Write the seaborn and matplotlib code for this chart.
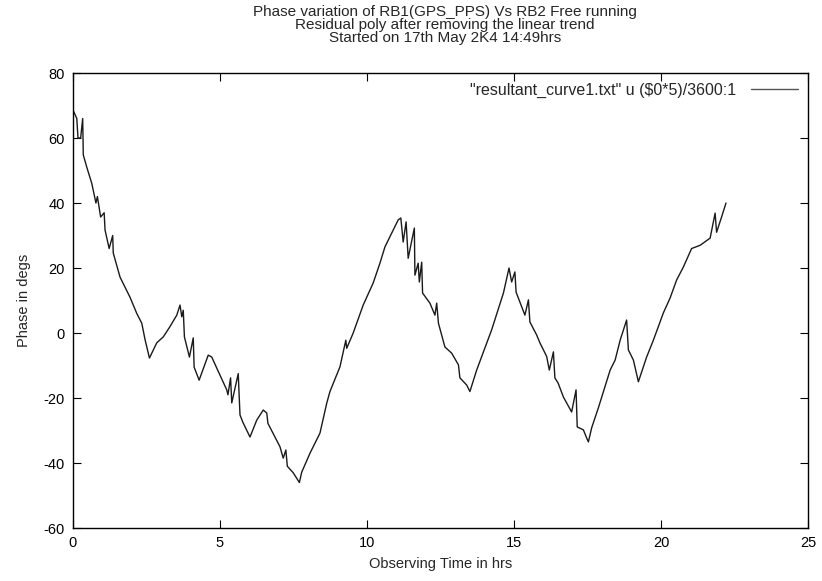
import matplotlib
matplotlib.use("Agg")
import matplotlib.pyplot as plt
import seaborn as sns
import pandas as pd

# observing time (hrs) and residual phase (degs)
hours = [0, 0.13, 0.17, 0.26, 0.33, 0.35, 0.47, 0.64, 0.78, 0.83,
         0.94, 1.06, 1.09, 1.23, 1.35, 1.37, 1.60, 1.94, 2.17, 2.34,
         2.45, 2.60, 2.85, 3.07, 3.30, 3.53, 3.64, 3.70, 3.75, 3.79,
         3.96, 4.09, 4.12, 4.29, 4.60, 4.72, 4.89, 5.23, 5.27, 5.36,
         5.40, 5.62, 5.68, 5.78, 6.02, 6.25, 6.47, 6.59, 6.63, 7.04,
         7.15, 7.24, 7.29, 7.49, 7.70, 7.78, 8.06, 8.40, 8.63, 8.74,
         9.08, 9.28, 9.31, 9.53, 9.87, 10.21, 10.44, 10.61, 10.89, 11.06,
         11.15, 11.23, 11.33, 11.40, 11.61, 11.63, 11.74, 11.78, 11.86, 11.89,
         12.14, 12.31, 12.37, 12.43, 12.65, 12.88, 13.11, 13.16, 13.39, 13.50,
         13.73, 14.24, 14.64, 14.83, 14.92, 15.03, 15.07, 15.37, 15.49, 15.54,
         15.77, 15.88, 16.11, 16.20, 16.34, 16.39, 16.50, 16.68, 16.96, 17.11,
         17.15, 17.36, 17.47, 17.53, 17.64, 17.87, 18.27, 18.44, 18.61, 18.83,
         18.89, 19.06, 19.23, 19.51, 19.74, 20.08, 20.31, 20.53, 20.76, 21.04,
         21.33, 21.67, 21.84, 21.89, 22.06, 22.21]
phase = [68.6, 66, 60, 60, 66, 54.8, 51, 46, 40, 42,
         35.7, 37, 31.7, 26, 30, 24.6, 17.2, 11, 6, 3,
         -2, -7.7, -3, -1.2, 2, 5.5, 8.6, 5, 7, -1.2,
         -7.4, -1.5, -10.5, -14.5, -6.8, -7.4, -10.8, -17.5, -19, -13.8,
         -21.5, -12.5, -25.2, -27.5, -32, -26.8, -23.7, -24.6, -27.8, -35,
         -38.5, -36, -41, -43, -46, -42.8, -37, -30.8, -21.6, -18,
         -10.4, -2.2, -4.7, 0, 8.6, 15.4, 21.5, 26.5, 31.7, 34.8,
         35.4, 28, 34.2, 23, 32.3, 17.8, 21.5, 15.7, 21.8, 12.3,
         9.2, 5.5, 9.2, 3, -4.3, -6.2, -9.8, -13.8, -16, -18,
         -11.4, 1, 12.3, 20, 15.7, 18.8, 12.6, 5.5, 10.2, 3.4,
         -0.6, -3, -7.2, -11.4, -5.8, -13.8, -15.4, -19.7, -24.3, -17.5,
         -28.9, -29.8, -32.3, -33.5, -29.2, -23, -11.4, -8.3, -2.2, 4,
         -5.2, -8.3, -15, -7.4, -2.2, 6.2, 10.8, 16.3, 20.3, 26,
         27, 29.2, 36.9, 31, 35.7, 40]

title_lines = ["Phase variation of RB1(GPS_PPS) Vs RB2 Free running",
               "Residual poly after removing the linear trend",
               "Started on 17th May 2K4 14:49hrs"]
legend_label = '"resultant_curve1.txt" u ($0*5)/3600:1'

sns.set_style("ticks", {"xtick.direction": "in", "ytick.direction": "in"})
plt.rcParams['font.family'] = ['Liberation Sans', 'DejaVu Sans']
plt.rcParams['axes.unicode_minus'] = False

df = pd.DataFrame({"hours": hours, "phase": phase})

fig = plt.figure(figsize=(8.22, 5.81), dpi=100)
ax = fig.add_axes([0.0888, 0.0912, 0.8942, 0.7831])

sns.lineplot(data=df, x="hours", y="phase", ax=ax, color="#1a1a1a",
             linewidth=1.0, sort=False, estimator=None, label=legend_label)

ax.set_xlim(0, 25)
ax.set_ylim(-60, 80)
ax.set_xticks([0, 5, 10, 15, 20, 25])
ax.set_yticks([-60, -40, -20, 0, 20, 40, 60, 80])
ax.tick_params(axis="both", which="both", direction="in", length=6, width=0.8,
               top=True, right=True, labelsize=10.5, colors="black", pad=6)
for s in ax.spines.values():
    s.set_visible(True)
    s.set_color("black")
    s.set_linewidth(1)

ax.set_xlabel("Observing Time in hrs", fontsize=10.5, labelpad=5)
ax.set_ylabel("Phase in degs", fontsize=10.5, labelpad=9)

leg = ax.legend(loc="upper right", frameon=False, markerfirst=False,
                handlelength=3.0, fontsize=11.5, borderaxespad=0.2,
                handletextpad=0.9)
for h in leg.get_lines():
    h.set_linewidth(1)
    h.set_color("#555555")

for i, line in enumerate(title_lines):
    fig.text(0.541, 1 - (12 + 13 * i) / 581, line, ha="center", va="center",
             fontsize=11)

plt.savefig("out.png", dpi=100)
